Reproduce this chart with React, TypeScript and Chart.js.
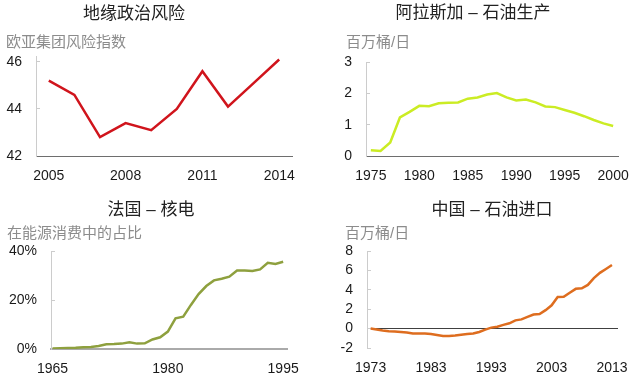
import { useEffect, useRef } from 'react';
import { Chart, registerables } from 'chart.js';
Chart.register(...registerables);

// ---- Data ----
const riskYears = [2005, 2006, 2007, 2008, 2009, 2010, 2011, 2012, 2013, 2014];
const riskValues = [45.2, 44.6, 42.8, 43.4, 43.1, 44.0, 45.6, 44.1, 45.1, 46.1];
const riskXTicks = [2005, 2008, 2011, 2014];
const riskYTicks = [42, 44, 46];

const alaskaYears = [1975, 1976, 1977, 1978, 1979, 1980, 1981, 1982, 1983, 1984, 1985, 1986, 1987, 1988, 1989, 1990, 1991, 1992, 1993, 1994, 1995, 1996, 1997, 1998, 1999, 2000];
const alaskaValues = [0.18, 0.16, 0.43, 1.23, 1.41, 1.6, 1.59, 1.68, 1.7, 1.71, 1.83, 1.87, 1.96, 2.01, 1.87, 1.77, 1.8, 1.71, 1.58, 1.56, 1.47, 1.38, 1.27, 1.15, 1.04, 0.96];
const alaskaXTicks = [1975, 1980, 1985, 1990, 1995, 2000];
const alaskaYTicks = [0, 1, 2, 3];

const franceYears = [1965, 1966, 1967, 1968, 1969, 1970, 1971, 1972, 1973, 1974, 1975, 1976, 1977, 1978, 1979, 1980, 1981, 1982, 1983, 1984, 1985, 1986, 1987, 1988, 1989, 1990, 1991, 1992, 1993, 1994, 1995];
const franceValues = [0.2, 0.3, 0.4, 0.5, 0.7, 0.8, 1.2, 1.9, 2.0, 2.2, 2.7, 2.2, 2.3, 3.9, 4.8, 7.1, 12.5, 13.2, 18.0, 22.4, 25.7, 28.0, 28.7, 29.5, 32.0, 32.0, 31.8, 32.5, 35.2, 34.7, 35.6];
const franceXTicks = [1965, 1980, 1995];
const franceYTicks = [0, 20, 40];

const chinaYears = [1973, 1974, 1975, 1976, 1977, 1978, 1979, 1980, 1981, 1982, 1983, 1984, 1985, 1986, 1987, 1988, 1989, 1990, 1991, 1992, 1993, 1994, 1995, 1996, 1997, 1998, 1999, 2000, 2001, 2002, 2003, 2004, 2005, 2006, 2007, 2008, 2009, 2010, 2011, 2012, 2013];
const chinaValues = [0, -0.1, -0.2, -0.28, -0.3, -0.35, -0.4, -0.5, -0.5, -0.5, -0.55, -0.65, -0.75, -0.75, -0.7, -0.63, -0.55, -0.5, -0.35, -0.1, 0.1, 0.2, 0.38, 0.55, 0.85, 0.95, 1.2, 1.45, 1.5, 1.9, 2.4, 3.25, 3.28, 3.7, 4.1, 4.15, 4.5, 5.2, 5.75, 6.15, 6.55];
const chinaXTicks = [1973, 1983, 1993, 2003, 2013];
const chinaYTicks = [-2, 0, 2, 4, 6, 8];

const FONT = '"Liberation Sans", Arial, "Noto Sans CJK SC", sans-serif';

type Panel = {
  title: string;
  subtitle: string;
  titleX: number;
  titleY: number;
  subX: number;
  subY: number;
  years: number[];
  values: number[];
  xTicks: number[];
  yTicks: number[];
  xMin: number;
  xMax: number;
  yMin: number;
  yMax: number;
  color: string;
  left: number;
  right: number;
  top: number;
  bottom: number;
  xBorderColor: string;
  xBorderWidth: number;
  xBorderShow: boolean;
  zeroLine: boolean;
  pct: boolean;
};

const panels: Panel[] = [
  {
    title: '地缘政治风险', subtitle: '欧亚集团风险指数', titleX: 134, titleY: 14, subX: 6, subY: 43,
    years: riskYears, values: riskValues, xTicks: riskXTicks, yTicks: riskYTicks,
    xMin: 2004.5, xMax: 2014.5, yMin: 42, yMax: 46.25, color: '#d0141c',
    left: 36, right: 292, top: 56, bottom: 156,
    xBorderColor: '#6e6e6e', xBorderWidth: 1, xBorderShow: true, zeroLine: false, pct: false,
  },
  {
    title: '阿拉斯加 – 石油生产', subtitle: '百万桶/日', titleX: 153, titleY: 13, subX: 26, subY: 43,
    years: alaskaYears, values: alaskaValues, xTicks: alaskaXTicks, yTicks: alaskaYTicks,
    xMin: 1974.5, xMax: 2000.5, yMin: 0, yMax: 3, color: '#cbec24',
    left: 46, right: 298, top: 62, bottom: 156,
    xBorderColor: '#6e6e6e', xBorderWidth: 1, xBorderShow: true, zeroLine: false, pct: false,
  },
  {
    title: '法国 – 核电', subtitle: '在能源消费中的占比', titleX: 151, titleY: 22, subX: 7, subY: 46,
    years: franceYears, values: franceValues, xTicks: franceXTicks, yTicks: franceYTicks,
    xMin: 1964.8, xMax: 1995.5, yMin: 0, yMax: 40, color: '#8ea03e',
    left: 51, right: 287, top: 63, bottom: 161,
    xBorderColor: '#aaaaaa', xBorderWidth: 2, xBorderShow: true, zeroLine: false, pct: true,
  },
  {
    title: '中国 – 石油进口', subtitle: '百万桶/日', titleX: 172, titleY: 22, subX: 25, subY: 46,
    years: chinaYears, values: chinaValues, xTicks: chinaXTicks, yTicks: chinaYTicks,
    xMin: 1972.4, xMax: 2014, yMin: -2, yMax: 8, color: '#de6d1f',
    left: 47, right: 298, top: 63, bottom: 160,
    xBorderColor: '#6e6e6e', xBorderWidth: 1, xBorderShow: false, zeroLine: true, pct: false,
  },
];

const W = 320;
const H = 188;

function makeTextPlugin(p: Panel) {
  return {
    id: 'panelText',
    afterDraw(chart: any) {
      const ctx = chart.ctx;
      ctx.save();
      ctx.font = '17px ' + FONT;
      ctx.fillStyle = '#222222';
      ctx.textAlign = 'center';
      ctx.textBaseline = 'middle';
      ctx.fillText(p.title, p.titleX, p.titleY);
      ctx.font = '15px ' + FONT;
      ctx.fillStyle = '#8c8c8c';
      ctx.textAlign = 'left';
      ctx.fillText(p.subtitle, p.subX, p.subY);
      ctx.restore();
    },
  };
}

function PanelChart({ p }: { p: Panel }) {
  const ref = useRef<HTMLCanvasElement | null>(null);
  useEffect(() => {
    if (!ref.current) return;
    const data = p.years.map((y, i) => ({ x: y, y: p.values[i] }));
    const chart = new Chart(ref.current, {
      type: 'line',
      data: {
        datasets: [
          {
            data,
            borderColor: p.color,
            borderWidth: 2.5,
            pointRadius: 0,
            tension: 0,
            fill: false,
          },
        ],
      },
      options: {
        responsive: false,
        animation: false,
        layout: { padding: { left: 0, right: W - p.right, top: p.top, bottom: 0 } },
        plugins: { legend: { display: false }, tooltip: { enabled: false }, title: { display: false } },
        scales: {
          x: {
            type: 'linear',
            min: p.xMin,
            max: p.xMax,
            afterBuildTicks: (s: any) => {
              s.ticks = p.xTicks.map((v) => ({ value: v }));
            },
            afterFit: (s: any) => {
              s.height = H - p.bottom;
            },
            grid: { display: false },
            border: { display: p.xBorderShow, color: p.xBorderColor, width: p.xBorderWidth },
            ticks: {
              autoSkip: false,
              maxRotation: 0,
              padding: 4,
              color: '#1a1a1a',
              font: { family: FONT, size: 14 },
              callback: (v: any) => String(v),
            },
          },
          y: {
            type: 'linear',
            min: p.yMin,
            max: p.yMax,
            afterBuildTicks: (s: any) => {
              s.ticks = p.yTicks.map((v) => ({ value: v }));
            },
            afterFit: (s: any) => {
              s.width = p.left;
            },
            grid: {
              drawOnChartArea: p.zeroLine,
              drawTicks: true,
              tickLength: -4,
              tickColor: '#cccccc',
              color: (c: any) => (p.zeroLine && c.tick && c.tick.value === 0 ? '#404040' : 'rgba(0,0,0,0)'),
              lineWidth: 1,
            },
            border: { display: true, color: '#cccccc', width: 1 },
            ticks: {
              autoSkip: false,
              padding: 18,
              color: '#1a1a1a',
              font: { family: FONT, size: 14 },
              callback: (v: any) => (p.pct ? v + '%' : String(v)),
            },
          },
        },
      },
      plugins: [makeTextPlugin(p)],
    });
    return () => chart.destroy();
  }, [p]);
  return <canvas ref={ref} width={W} height={H} style={{ width: W, height: H, display: 'block' }} />;
}

export default function App() {
  useEffect(() => {
    document.body.style.margin = '0';
  }, []);
  return (
    <div style={{ position: 'relative', width: 640, height: 376, background: '#ffffff' }}>
      {panels.map((p, i) => (
        <div
          key={i}
          style={{ position: 'absolute', left: (i % 2) * W, top: Math.floor(i / 2) * H, width: W, height: H }}
        >
          <PanelChart p={p} />
        </div>
      ))}
    </div>
  );
}
